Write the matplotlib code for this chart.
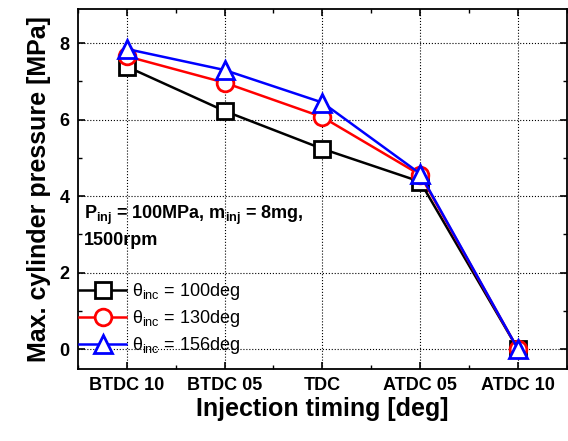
import numpy as np
import matplotlib
matplotlib.use("Agg")
import matplotlib.pyplot as plt

plt.rcParams['font.family'] = ['Liberation Sans', 'DejaVu Sans']
plt.rcParams['mathtext.fontset'] = 'custom'
plt.rcParams['mathtext.rm'] = 'Liberation Sans'
plt.rcParams['mathtext.it'] = 'Liberation Sans:italic'
plt.rcParams['mathtext.bf'] = 'Liberation Sans:bold'

timing = ["BTDC 10", "BTDC 05", "TDC", "ATDC 05", "ATDC 10"]
p_100 = [7.39, 6.23, 5.24, 4.38, 0.0]
p_130 = [7.66, 6.97, 6.07, 4.56, 0.0]
p_156 = [7.85, 7.30, 6.45, 4.59, 0.0]
labels = ["θ$_{\\mathrm{inc}}$ = 100deg", "θ$_{\\mathrm{inc}}$ = 130deg", "θ$_{\\mathrm{inc}}$ = 156deg"]

fig = plt.figure(figsize=(5.68, 4.41), dpi=100)
ax = fig.add_axes([0.137, 0.163, 0.861, 0.817])

x = np.arange(len(timing))
series = [(p_100, 'black', 's', 11.5), (p_130, 'red', 'o', 12), (p_156, 'blue', '^', 13)]
for (vals, col, mk, ms), lab in zip(series, labels):
    ax.plot(x, vals, color=col, lw=1.8, marker=mk, ms=ms, mfc='white',
            mec=col, mew=2.0, label=lab)

ax.set_xlim(-0.5, 4.5)
ax.set_ylim(-0.52, 8.9)
ax.set_xticks(x)
ax.set_xticklabels(timing, fontsize=13, fontweight='bold')
ax.set_xticks(np.arange(-0.5, 4.6, 0.5), minor=True)
ax.set_yticks([0, 2, 4, 6, 8])
ax.set_yticks(np.arange(0, 9, 1), minor=True)
for t in ax.get_yticklabels():
    t.set_fontsize(13)
    t.set_fontweight('bold')
ax.tick_params(which='both', direction='in', top=True, right=True)
ax.tick_params(which='major', length=5, width=1.2, pad=6)
ax.tick_params(which='minor', length=3, width=1.0)
ax.grid(True, which='major', ls=':', color='black', lw=0.8)
for s in ax.spines.values():
    s.set_linewidth(1.3)

ax.set_xlabel("Injection timing [deg]", fontsize=18, fontweight='bold', labelpad=2)
ax.set_ylabel("Max. cylinder pressure [MPa]", fontsize=18, fontweight='bold', labelpad=6)

ax.text(0.012, 0.428, r"P$_{\mathbf{inj}}$ = 100MPa, m$_{\mathbf{inj}}$ = 8mg,",
        transform=ax.transAxes, fontsize=13, fontweight='bold', va='center')
ax.text(0.012, 0.358, "1500rpm", transform=ax.transAxes, fontsize=13,
        fontweight='bold', va='center')

ax.legend(loc='lower left', bbox_to_anchor=(-0.03, -0.01), frameon=False,
          fontsize=13, handlelength=2.6, handletextpad=0.3, labelspacing=0.35)

fig.savefig("out.png", dpi=100)
